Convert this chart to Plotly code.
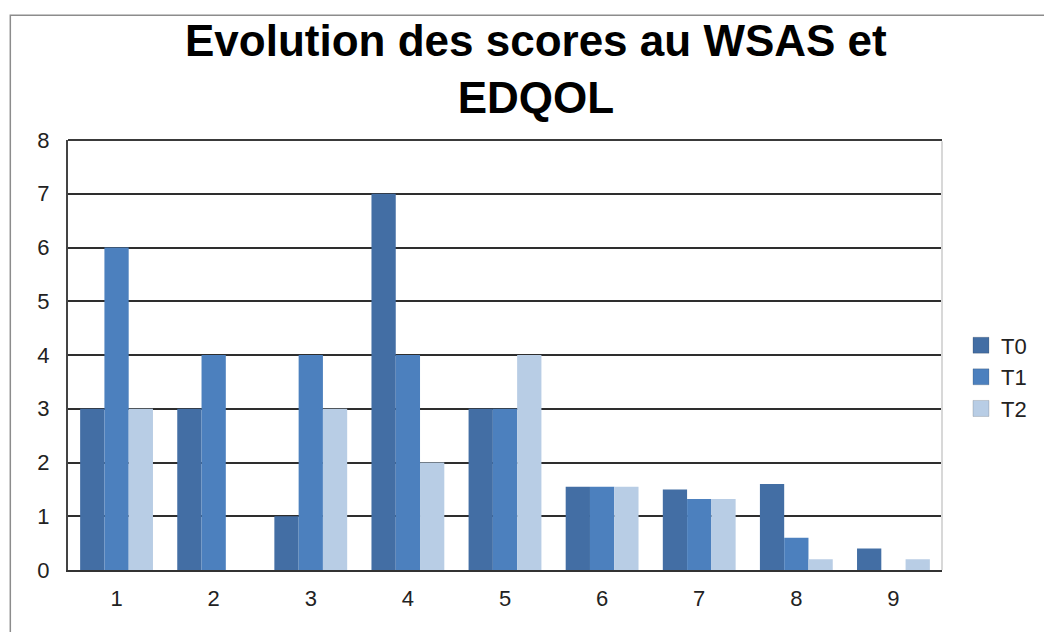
import plotly.graph_objects as go

categories = ["1", "2", "3", "4", "5", "6", "7", "8", "9"]
t0 = [3, 3, 1, 7, 3, 1.55, 1.5, 1.6, 0.4]
t1 = [6, 4, 4, 4, 3, 1.55, 1.32, 0.6, 0]
t2 = [3, 0, 3, 2, 4, 1.55, 1.32, 0.2, 0.2]
series_names = ["T0", "T1", "T2"]
colors = ["#436EA4", "#4C80BE", "#B8CDE5"]
title_text = "<b>Evolution des scores au WSAS et<br>EDQOL</b>"

fig = go.Figure()
for name, vals, col in zip(series_names, [t0, t1, t2], colors):
    fig.add_trace(go.Bar(x=categories, y=vals, name=name, showlegend=False,
                         marker=dict(color=col, line=dict(width=0))))
# legend entries with larger square swatches
for name, col in zip(series_names, colors):
    fig.add_trace(go.Scatter(x=[None], y=[None], mode="markers", name=name,
                             marker=dict(symbol="square", size=20, color=col,
                                         line=dict(color="rgba(0,0,0,0.15)", width=1))))

font_family = "Liberation Sans, Arial, sans-serif"
fig.update_layout(
    width=1044, height=632,
    margin=dict(l=68, r=99, t=140, b=62),
    paper_bgcolor="white", plot_bgcolor="white",
    barmode="group", bargap=0.25, bargroupgap=0,
    font=dict(family=font_family, size=22, color="#222222"),
    legend=dict(x=1.0217, xanchor="left", y=0.449, yanchor="middle",
                font=dict(size=22, color="#222222"), tracegroupgap=0, itemwidth=30),
    showlegend=True,
)
fig.add_annotation(text=title_text, xref="paper", yref="paper", x=0.535, y=1.292,
                   xanchor="center", yanchor="top", showarrow=False,
                   font=dict(family=font_family, size=44, color="black"))
fig.update_xaxes(showline=True, linecolor="#333333", linewidth=2, ticks="", showgrid=False,
                 ticklabelstandoff=8, tickfont=dict(size=22, color="#222222"))
fig.update_yaxes(range=[0, 8], dtick=1, showgrid=True, gridcolor="#2e2e2e", gridwidth=2,
                 showline=True, linecolor="#444444", linewidth=2, ticks="", zeroline=False,
                 ticklabelstandoff=12, tickfont=dict(size=22, color="#222222"))
# top border (gridline at 8)
fig.add_shape(type="line", xref="paper", yref="paper", x0=0, x1=1, y0=1, y1=1,
              line=dict(color="#3a3a3a", width=2))
# light right border of plot area
fig.add_shape(type="line", xref="paper", yref="paper", x0=1, x1=1, y0=0, y1=0.997,
              line=dict(color="#d8d8d8", width=2))
# outer chart border
fig.add_shape(type="rect", xref="paper", yref="paper", x0=-0.066, x1=1.3, y0=-0.3, y1=1.29,
              line=dict(color="#8c8c8c", width=1.5), layer="below")
fig.write_html("out.html", post_script="document.body.style.margin='0';",
               config={"displayModeBar": False})
